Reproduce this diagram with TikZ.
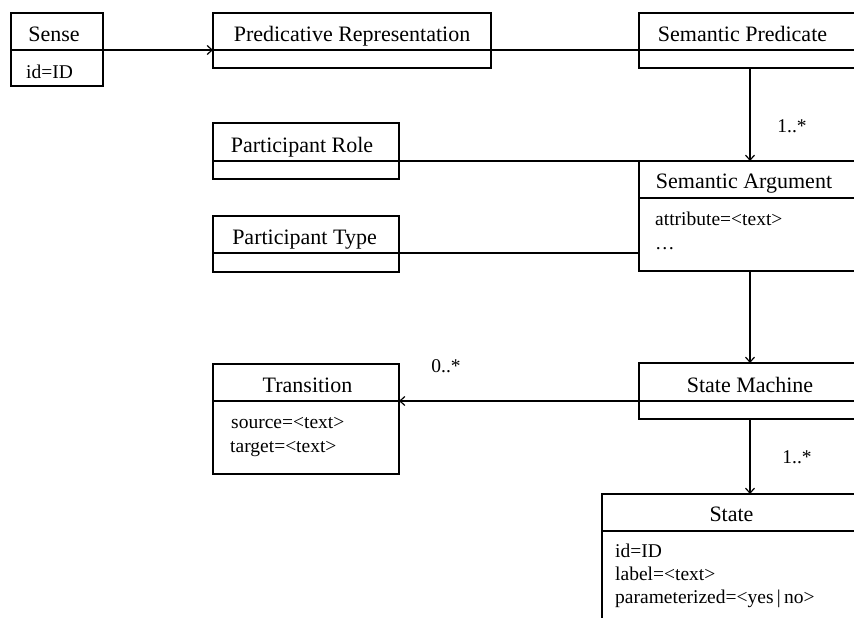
\documentclass[tikz,border=0pt]{standalone}
\usepackage{fontspec}
\setmainfont{Liberation Serif}
\usetikzlibrary{arrows.meta}

% a UML class box: name, left, top, right, divider, bottom
\newcommand\umlclass[6]{%
  \node[classbox, minimum width=#4pt-#2pt, minimum height=#6pt-#3pt,
        anchor=north west] (#1) at (#2,#3) {};
  \coordinate (#1-dl) at (#2,#5);
  \coordinate (#1-dr) at (#4,#5);
  \draw[classline] (#1-dl) -- (#1-dr);
}

\tikzset{
  classbox/.style={draw, line width=1.3pt, inner sep=0pt, outer sep=0pt, rectangle},
  classline/.style={line width=1.3pt},
  assoc/.style={line width=1.2pt},
  navto/.style={line width=1.2pt, -{Straight Barb[length=5pt, width=9pt, line width=1.2pt]}},
  title/.style={inner sep=0pt, anchor=base, font=\fontsize{22}{26}\selectfont},
  attr/.style={inner sep=0pt, anchor=base west, font=\fontsize{19.5}{23}\selectfont},
  mult/.style={inner sep=0pt, anchor=base, font=\fontsize{19.5}{23}\selectfont},
}

\begin{document}
\begin{tikzpicture}[x=1pt, y=-1pt]
  \useasboundingbox (0,0) rectangle (854,618);
  \fill[white] (0,0) rectangle (854,618);
  \clip (0,0) rectangle (854,618);

  % class boxes
  \umlclass{sense}{11}{13}{103}{50}{86}
  \umlclass{predrep}{213}{13}{491}{50}{68}
  \umlclass{sempred}{639}{13}{880}{50}{68}
  \umlclass{prole}{213}{123}{399}{161}{179}
  \umlclass{ptype}{213}{216}{399}{253}{272}
  \umlclass{semarg}{639}{161}{880}{198}{271}
  \umlclass{trans}{213}{364}{399}{401}{474}
  \umlclass{sm}{639}{363}{880}{401}{419}
  \umlclass{state}{602}{494}{880}{531}{660}

  % class names
  \node[title] (t-sense)   at (54,42)    {Sense};
  \node[title] (t-predrep) at (352,42)   {Predicative Representation};
  \node[title] (t-sempred) at (742.5,42) {Semantic Predicate};
  \node[title] (t-prole)   at (302,152)  {Participant Role};
  \node[title] (t-ptype)   at (304.5,244){Participant Type};
  \node[title] (t-semarg)  at (744,188)  {Semantic Argument};
  \node[title] (t-trans)   at (307.5,392){Transition};
  \node[title] (t-sm)      at (750,392)  {State Machine};
  \node[title] (t-state)   at (731.5,521){State};

  % attributes
  \node[attr] (a-sense)  at (26,78)  {id=ID};
  \node[attr] (a-arg1)   at (655,225) {attribute=<text>};
  \node[attr] (a-arg2)   at (655,249) {\ldots};
  \node[attr] (a-src)    at (231,428) {source=<text>};
  \node[attr] (a-tgt)    at (230,452) {target=<text>};
  \node[attr] (a-id)     at (615,557) {id=ID};
  \node[attr] (a-label)  at (615,580) {label=<text>};
  \node[attr] (a-param)  at (615,603) {parameterized=<yes\,|\,no>};

  % associations
  \draw[navto] (sense-dr) -- (predrep-dl);
  \draw[assoc] (predrep-dr) -- (sempred-dl);
  \draw[navto] ([xshift=111pt]sempred.south west) -- ([xshift=111pt]semarg.north west);
  \draw[assoc] (prole-dr) -- (semarg.north west);
  \draw[assoc] (ptype-dr) -- (ptype-dr -| semarg.west);
  \draw[navto] ([xshift=111pt]semarg.south west) -- ([xshift=111pt]sm.north west);
  \draw[navto] (sm-dl) -- (trans-dr);
  \draw[navto] ([xshift=111pt]sm.south west) -- ([xshift=111pt]sm.south west |- state.north);

  % multiplicities
  \node[mult] (m-arg)   at (792,132) {1..*};
  \node[mult] (m-trans) at (446,372) {0..*};
  \node[mult] (m-state) at (797,463) {1..*};
\end{tikzpicture}
\end{document}
